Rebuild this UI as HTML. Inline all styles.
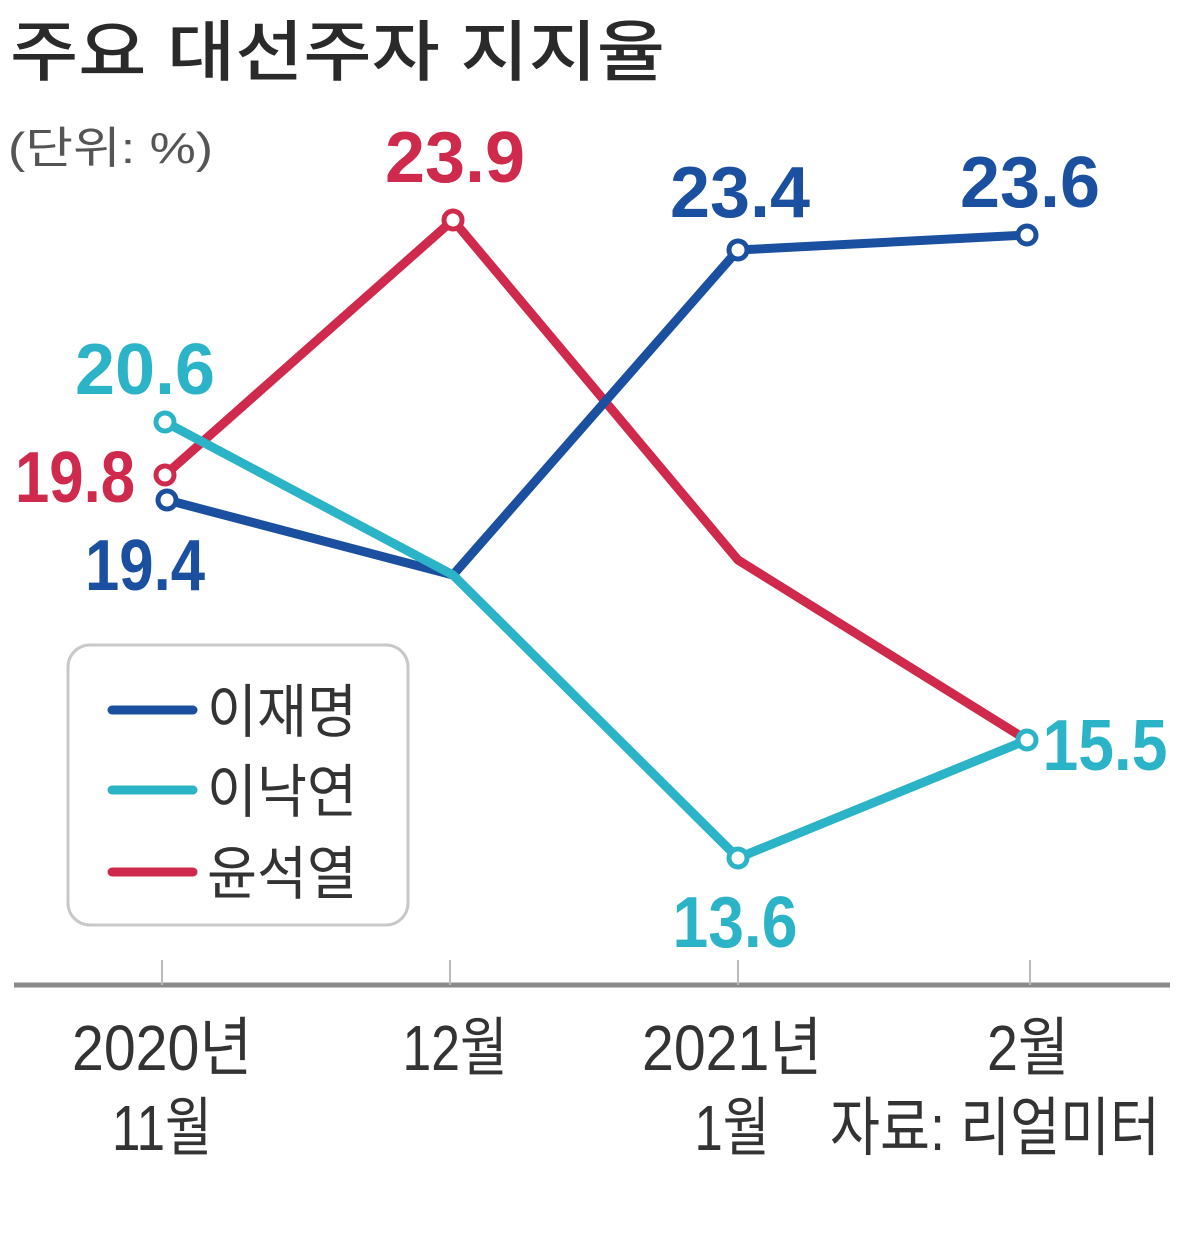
<!DOCTYPE html>
<html><head><meta charset="utf-8"><style>
html,body{margin:0;padding:0;background:#fff;}
svg{display:block}
text{font-family:"Liberation Sans","Noto Sans CJK KR",sans-serif;}
</style></head><body>
<svg width="1200" height="1248" viewBox="0 0 1200 1248">
<text x="10" y="75" font-size="66" fill="#2a2a2a" font-weight="500" textLength="655" lengthAdjust="spacingAndGlyphs">주요 대선주자 지지율</text>
<text x="8" y="163" font-size="44" fill="#555" textLength="205" lengthAdjust="spacingAndGlyphs">(단위: %)</text>

<line x1="14" y1="985" x2="1170" y2="985" stroke="#8a8a8a" stroke-width="5"/>
<g stroke="#bbb" stroke-width="2">
<line x1="162" y1="960" x2="162" y2="985"/><line x1="450" y1="960" x2="450" y2="985"/>
<line x1="738" y1="960" x2="738" y2="985"/><line x1="1030" y1="960" x2="1030" y2="985"/>
</g>
<g font-size="64" fill="#333" text-anchor="middle">
<text x="162" y="1070" textLength="180" lengthAdjust="spacingAndGlyphs">2020년</text>
<text x="162" y="1150" textLength="100" lengthAdjust="spacingAndGlyphs">11월</text>
<text x="455" y="1070" textLength="105" lengthAdjust="spacingAndGlyphs">12월</text>
<text x="732" y="1070" textLength="180" lengthAdjust="spacingAndGlyphs">2021년</text>
<text x="732" y="1150" textLength="75" lengthAdjust="spacingAndGlyphs">1월</text>
<text x="1028" y="1070" textLength="82" lengthAdjust="spacingAndGlyphs">2월</text>
<text x="995" y="1150" textLength="330" lengthAdjust="spacingAndGlyphs">자료: 리얼미터</text>
</g>

<rect x="68" y="645" width="340" height="280" rx="22" fill="#fff" stroke="#c8c8c8" stroke-width="3"/>
<g stroke-width="9" stroke-linecap="round">
<line x1="112" y1="710" x2="193" y2="710" stroke="#1b4f9f"/>
<line x1="112" y1="790" x2="193" y2="790" stroke="#2bb3c7"/>
<line x1="112" y1="872" x2="193" y2="872" stroke="#cf2a4c"/>
</g>
<g font-size="58" fill="#333">
<text x="207" y="732" textLength="150" lengthAdjust="spacingAndGlyphs">이재명</text>
<text x="207" y="812" textLength="150" lengthAdjust="spacingAndGlyphs">이낙연</text>
<text x="207" y="894" textLength="150" lengthAdjust="spacingAndGlyphs">윤석열</text>
</g>

<g fill="none" stroke-width="9" stroke-linejoin="round">
<polyline points="165,475 453,220 738,560 1027,740" stroke="#cf2a4c"/>
<polyline points="167,500 453,575 738,250 1027,235" stroke="#1b4f9f"/>
<polyline points="165,422 453,575 738,858 1027,740" stroke="#2bb3c7"/>
</g>
<g fill="#fff" stroke-width="5">
<circle cx="165" cy="475" r="9" stroke="#cf2a4c"/>
<circle cx="453" cy="220" r="9" stroke="#cf2a4c"/>
<circle cx="167" cy="500" r="9" stroke="#1b4f9f"/>
<circle cx="738" cy="250" r="9" stroke="#1b4f9f"/>
<circle cx="1027" cy="235" r="9" stroke="#1b4f9f"/>
<circle cx="165" cy="422" r="9" stroke="#2bb3c7"/>
<circle cx="738" cy="858" r="9" stroke="#2bb3c7"/>
<circle cx="1027" cy="740" r="9" stroke="#2bb3c7"/>
</g>

<g font-size="72" font-weight="bold" text-anchor="middle">
<text x="455" y="182" fill="#cf2a4c" textLength="140" lengthAdjust="spacingAndGlyphs">23.9</text>
<text x="740" y="217" fill="#1b4f9f" textLength="140" lengthAdjust="spacingAndGlyphs">23.4</text>
<text x="1030" y="207" fill="#1b4f9f" textLength="140" lengthAdjust="spacingAndGlyphs">23.6</text>
<text x="145" y="394" fill="#2bb3c7" textLength="140" lengthAdjust="spacingAndGlyphs">20.6</text>
<text x="75" y="502" fill="#cf2a4c" textLength="120" lengthAdjust="spacingAndGlyphs">19.8</text>
<text x="145" y="590" fill="#1b4f9f" textLength="120" lengthAdjust="spacingAndGlyphs">19.4</text>
<text x="1105" y="770" fill="#2bb3c7" textLength="125" lengthAdjust="spacingAndGlyphs">15.5</text>
<text x="735" y="947" fill="#2bb3c7" textLength="125" lengthAdjust="spacingAndGlyphs">13.6</text>
</g>
</svg>
</body></html>
